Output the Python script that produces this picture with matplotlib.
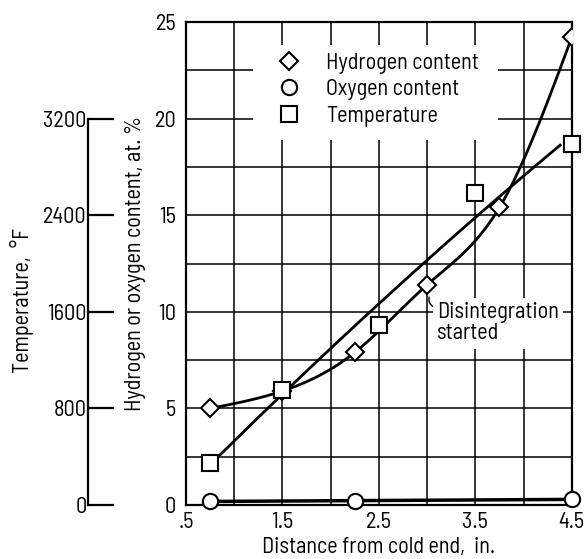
import numpy as np
import matplotlib
matplotlib.use("Agg")
import matplotlib.pyplot as plt
from matplotlib.lines import Line2D
from matplotlib.patches import Rectangle

# values
h_dist = [0.75, 1.5, 2.25, 3.0, 3.75, 4.5]
h_content = [5.0, 5.9, 7.9, 11.4, 15.4, 24.2]

o_dist = [0.75, 2.25, 4.5]
o_content = [0.2, 0.2, 0.3]

t_dist = [0.75, 1.5, 2.5, 3.5, 4.5]
t_temp = [350, 950, 1490, 2580, 2990]

x_ticks = [0.5, 1.5, 2.5, 3.5, 4.5]
x_tick_labels = [".5", "1.5", "2.5", "3.5", "4.5"]
y_ticks = [0, 5, 10, 15, 20, 25]
t_ticks = [0, 800, 1600, 2400, 3200]


def natural_spline(x, y, xs):
    x = np.asarray(x, float)
    y = np.asarray(y, float)
    n = len(x)
    h = np.diff(x)
    A = np.zeros((n, n))
    b = np.zeros(n)
    A[0, 0] = A[-1, -1] = 1
    for i in range(1, n - 1):
        A[i, i - 1] = h[i - 1]
        A[i, i] = 2 * (h[i - 1] + h[i])
        A[i, i + 1] = h[i]
        b[i] = 6 * ((y[i + 1] - y[i]) / h[i] - (y[i] - y[i - 1]) / h[i - 1])
    m = np.linalg.solve(A, b)
    out = np.empty_like(xs)
    for k, xv in enumerate(xs):
        i = min(max(np.searchsorted(x, xv) - 1, 0), n - 2)
        t0 = x[i + 1] - xv
        t1 = xv - x[i]
        out[k] = (m[i] * t0 ** 3 + m[i + 1] * t1 ** 3) / (6 * h[i]) \
            + (y[i] / h[i] - m[i] * h[i] / 6) * t0 \
            + (y[i + 1] / h[i] - m[i + 1] * h[i] / 6) * t1
    return out


plt.rcParams["font.family"] = ["Barlow Semi Condensed", "DejaVu Sans"]
plt.rcParams["font.size"] = 15

fig = plt.figure(figsize=(5.87, 5.59), dpi=100)
ax = fig.add_axes([0.317, 0.0966, 0.657, 0.864])

ax.set_xlim(0.5, 4.5)
ax.set_ylim(0, 25)
ax.set_xticks(x_ticks)
ax.set_xticklabels(x_tick_labels)
ax.set_xticks(np.arange(0.5, 4.51, 0.5), minor=True)
ax.set_yticks(y_ticks)
ax.set_yticks(np.arange(0, 25.1, 2.5), minor=True)
ax.grid(True, which="both", color="black", linewidth=1.1)
ax.tick_params(which="both", length=0, labelsize=16)
ax.tick_params(axis="y", pad=7)
ax.tick_params(axis="x", pad=5)
for s in ax.spines.values():
    s.set_linewidth(1.6)

# hydrogen
xs = np.linspace(h_dist[0], h_dist[-1], 200)
ax.plot(xs, natural_spline(h_dist, h_content, xs), color="black", lw=2, zorder=3)
ax.plot(h_dist, h_content, "D", ms=9, mfc="white", mec="black", mew=1.5, zorder=4)

# oxygen
fit_o = np.polyfit(o_dist, o_content, 1)
xo = np.array([o_dist[0], o_dist[-1]])
ax.plot(xo, np.polyval(fit_o, xo), color="black", lw=2.5, zorder=3)
ax.plot(o_dist, o_content, "o", ms=11, mfc="white", mec="black", mew=1.5,
        zorder=4, clip_on=False)

# white patch behind legend
ax.add_patch(Rectangle((0.174, 0.756), 0.635, 0.196, transform=ax.transAxes,
                       facecolor="white", edgecolor="none", zorder=1.8))

handles = [
    Line2D([], [], ls="none", marker="D", ms=9, mfc="white", mec="black", mew=1.5),
    Line2D([], [], ls="none", marker="o", ms=11, mfc="white", mec="black", mew=1.5),
    Line2D([], [], ls="none", marker="s", ms=11, mfc="white", mec="black", mew=1.5),
]
ax.legend(handles, ["Hydrogen content", "Oxygen content", "Temperature"],
          loc="upper left", bbox_to_anchor=(0.185, 0.955), frameon=False,
          fontsize=16, handletextpad=0.7, labelspacing=0.25, borderaxespad=0)

ax.annotate("", xy=(3.03, 10.9), xytext=(3.09, 10.2),
            arrowprops=dict(arrowstyle="-", color="black", lw=1,
                            connectionstyle="arc3,rad=-0.5"), zorder=5)
ax.text(3.1, 9.4, "Disintegration\nstarted", fontsize=16, va="center",
        ha="left", linespacing=1.0,
        bbox=dict(facecolor="white", edgecolor="none", pad=3), zorder=5)

ax.set_xlabel("Distance from cold end,  in.", fontsize=16, labelpad=3)
ax.set_ylabel("Hydrogen or oxygen content, at. %", fontsize=16)
ax.yaxis.set_label_coords(-0.105, 0.5)

# temperature axis
ax2 = ax.twinx()
ax2.set_ylim(0, 4000)
for side in ["right", "top", "bottom"]:
    ax2.spines[side].set_visible(False)
ax2.spines["left"].set_visible(True)
ax2.spines["left"].set_position(("axes", -0.254))
ax2.spines["left"].set_bounds(0, 3200)
ax2.spines["left"].set_linewidth(1.6)
ax2.yaxis.tick_left()
ax2.yaxis.set_label_position("left")
ax2.set_yticks(t_ticks)
ax2.tick_params(axis="y", direction="in", length=19, width=1.6, pad=1,
                labelsize=16)
ax2.set_ylabel("Temperature,  \u00b0F", fontsize=16)
ax2.yaxis.set_label_coords(-0.395, 0.424)

fit_t = np.polyfit(t_dist, t_temp, 2)
xt = np.linspace(0.8, 4.38, 100)
ax2.plot(xt, np.polyval(fit_t, xt), color="black", lw=2, zorder=3)
ax2.plot(t_dist, t_temp, "s", ms=11, mfc="white", mec="black", mew=1.5,
         zorder=4, clip_on=False)

fig.savefig("out.png", dpi=100)
